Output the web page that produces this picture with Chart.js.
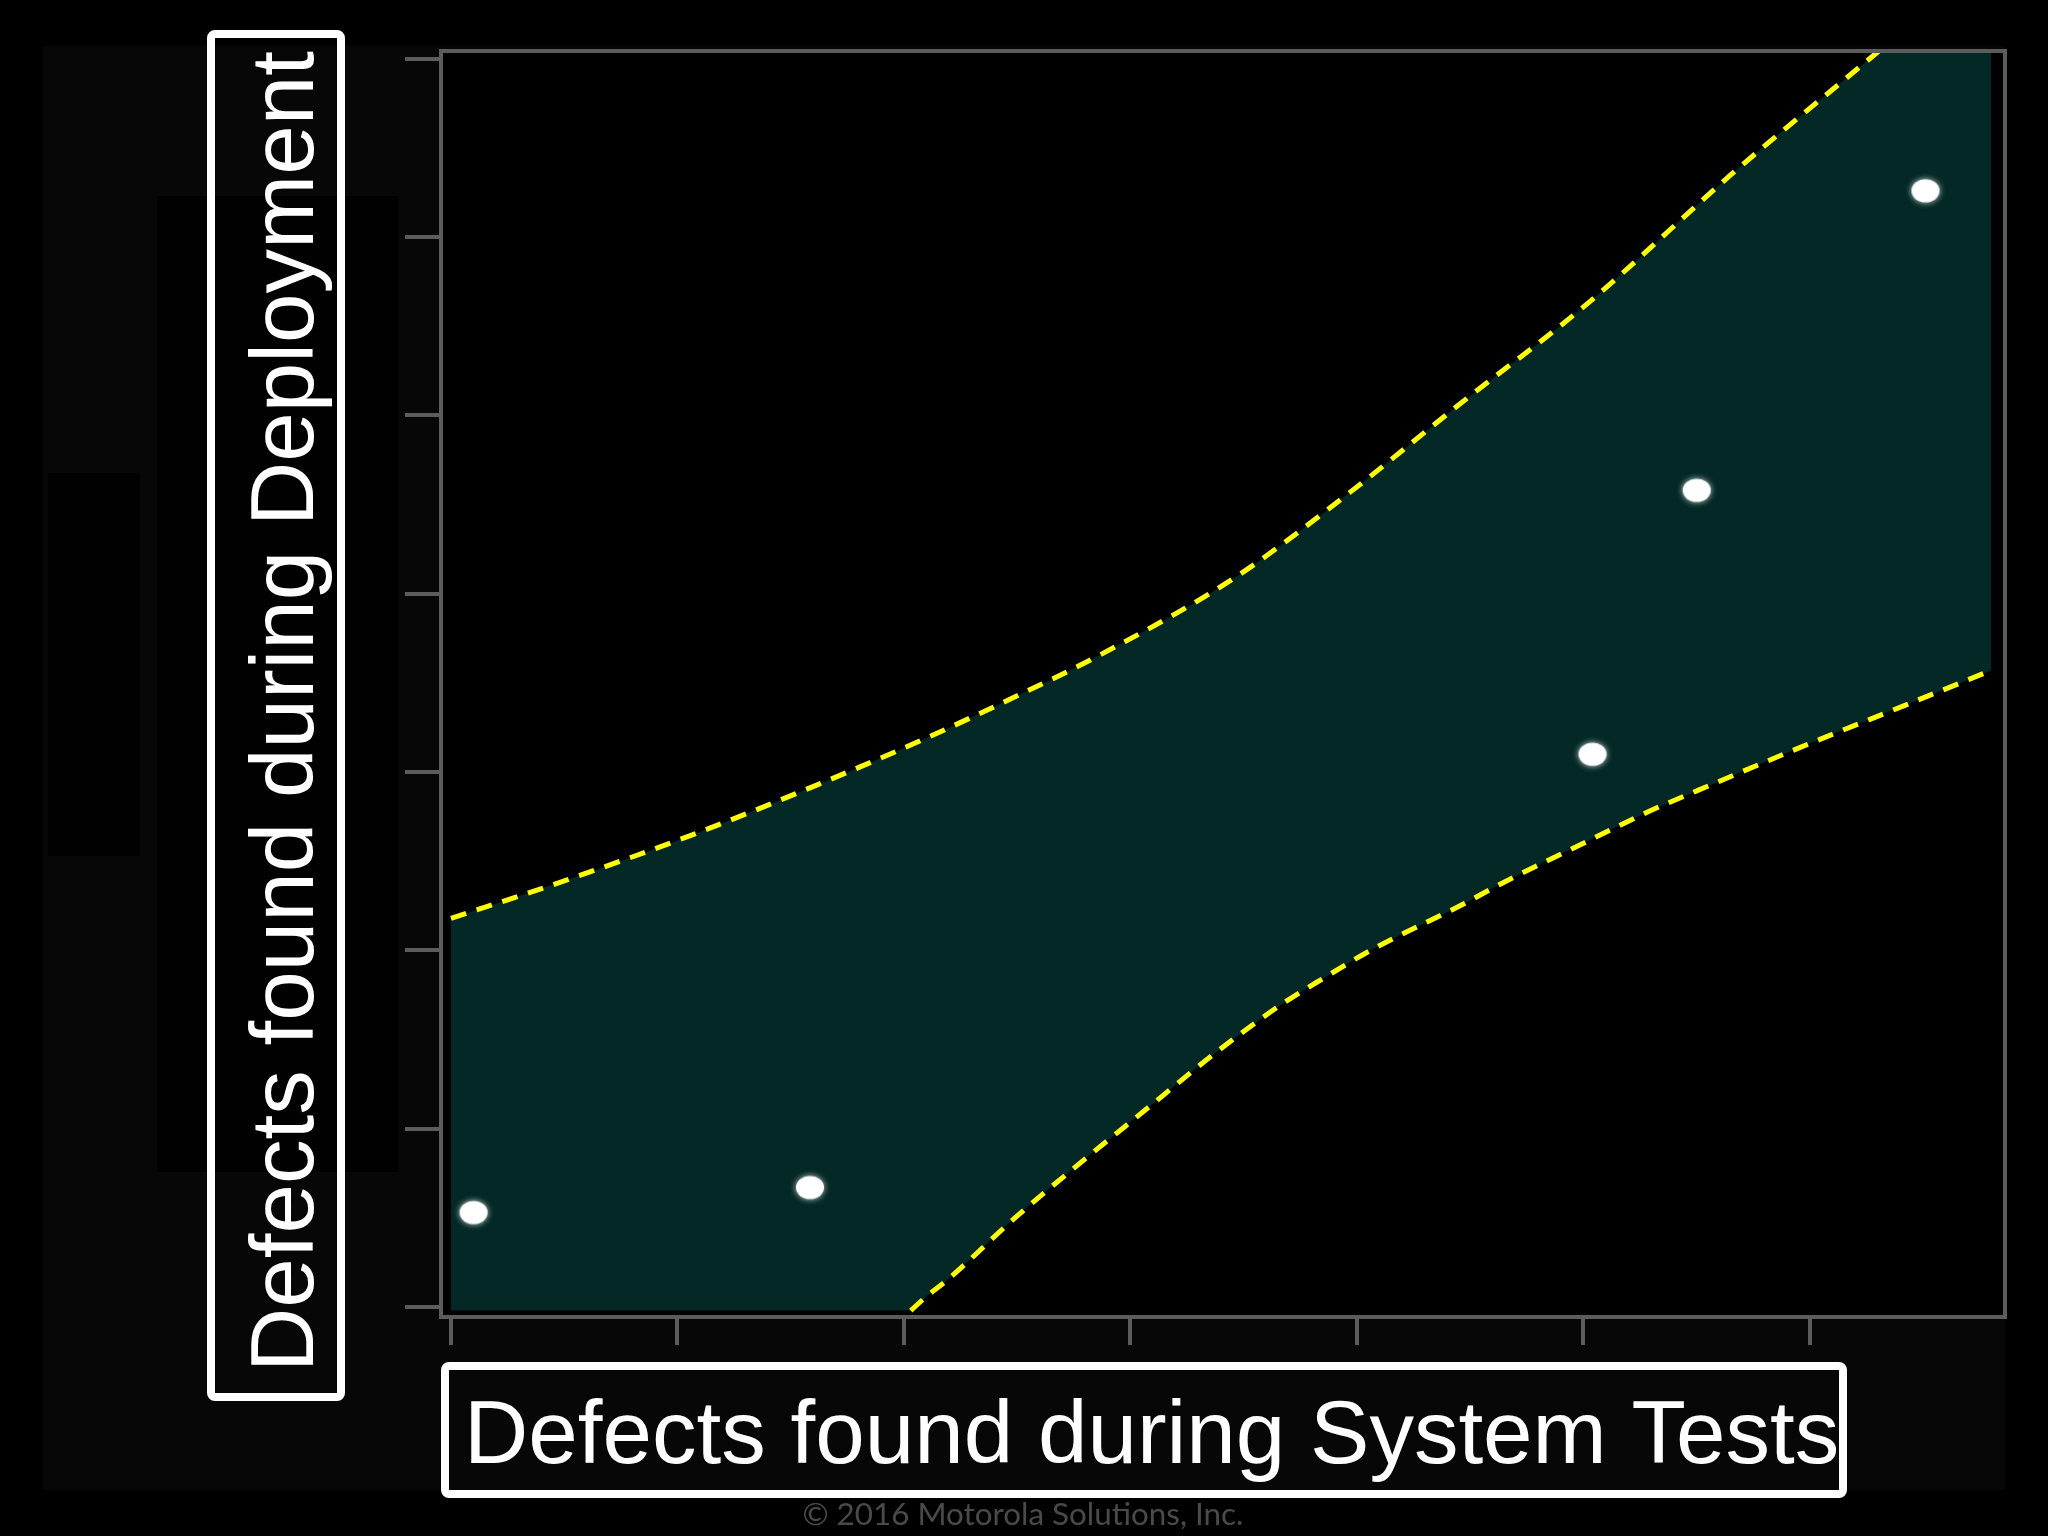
<!DOCTYPE html>
<html>
<head>
<meta charset="utf-8">
<script src="https://cdn.jsdelivr.net/npm/chart.js@4.4.1/dist/chart.umd.min.js"></script>
<style>
html,body{margin:0;padding:0;background:#000;overflow:hidden}
canvas{display:block}
</style>
</head>
<body>
<canvas id="c" width="2048" height="1536"></canvas>
<script>
// ---- data ----
const pointsX = [0.10, 1.585, 5.04, 5.50, 6.51];
const pointsY = [0.53, 0.67, 3.10, 4.58, 6.26];

const upperX = [0, 0.50, 1.09, 1.62, 2.08, 2.47, 2.87, 3.46, 3.97, 4.44, 5.02, 5.66, 6.30, 6.80];
const upperY = [2.18, 2.39, 2.66, 2.93, 3.18, 3.41, 3.66, 4.09, 4.57, 5.05, 5.63, 6.36, 7.04, 7.58];

// lower bound of the band (flat part is where it is cut at the bottom)
const lowerX = [0, 2.03, 2.10, 2.19, 2.49, 2.78, 3.08, 3.37, 3.67, 3.86, 4.06, 4.47, 4.63, 5.03, 5.29, 5.51, 5.96, 6.43, 6.80];
const lowerY = [-0.02, -0.02, 0.06, 0.15, 0.50, 0.81, 1.12, 1.42, 1.70, 1.85, 2.00, 2.26, 2.37, 2.62, 2.78, 2.90, 3.14, 3.38, 3.57];
// the dashed lower line starts where the bound leaves the bottom
const lowerLineX = lowerX.slice(1);
const lowerLineY = lowerY.slice(1);

const xTicks = [0, 1, 2, 3, 4, 5, 6];
const yTicks = [0, 1, 2, 3, 4, 5, 6, 7];

const xTitle = 'Defects found during System Tests';
const yTitle = 'Defects found during Deployment';
const footerText = '\u00A9 2016 Motorola Solutions, Inc.';

// ---- styles ----
const YELLOW = '#ffff00';
const TEAL = 'rgb(3,40,38)';
const GRAY = '#5c5c5c';
const TITLE_FONT = '89px "Liberation Sans", Arial, Helvetica, sans-serif';

const toXY = (xs, ys) => xs.map((x, i) => ({x: x, y: ys[i]}));

function makeDot() {
  const c = document.createElement('canvas');
  c.width = 46; c.height = 40;
  const g = c.getContext('2d');
  g.shadowColor = 'rgba(255,255,255,0.8)';
  g.shadowBlur = 6;
  g.fillStyle = '#ffffff';
  g.beginPath();
  g.ellipse(23, 20, 14, 11.5, 0, 0, Math.PI * 2);
  g.fill();
  return c;
}
const dot = makeDot();

const backgroundPlugin = {
  id: 'bg',
  beforeDraw(chart) {
    const ctx = chart.ctx;
    const a = chart.chartArea;
    ctx.save();
    ctx.fillStyle = '#000';
    ctx.fillRect(0, 0, chart.width, chart.height);
    ctx.fillStyle = '#070707';
    ctx.fillRect(43, 46, 1962, 1444);
    ctx.fillStyle = '#010101';
    ctx.fillRect(157, 196, 241, 976);
    ctx.fillRect(48, 473, 92, 383);
    ctx.fillStyle = '#000';
    ctx.fillRect(a.left, a.top, a.right - a.left, a.bottom - a.top);
    ctx.restore();
  }
};

const decorPlugin = {
  id: 'decor',
  afterDraw(chart) {
    const ctx = chart.ctx;
    const a = chart.chartArea;
    ctx.save();
    // top and right frame lines
    ctx.strokeStyle = GRAY;
    ctx.lineWidth = 4;
    ctx.beginPath();
    ctx.moveTo(a.left - 2, a.top);
    ctx.lineTo(a.right, a.top);
    ctx.lineTo(a.right, a.bottom + 2);
    ctx.stroke();

    // title boxes
    ctx.strokeStyle = '#ffffff';
    ctx.lineWidth = 8;
    ctx.lineJoin = 'round';
    ctx.beginPath();
    ctx.roundRect(445, 1366, 1398, 128, 4);
    ctx.stroke();
    ctx.beginPath();
    ctx.roundRect(211, 34, 130, 1363, 4);
    ctx.stroke();

    ctx.fillStyle = '#ffffff';
    ctx.font = TITLE_FONT;
    ctx.textBaseline = 'alphabetic';
    ctx.textAlign = 'left';
    ctx.fillText(xTitle, 464, 1463);

    ctx.save();
    ctx.translate(313, 1372);
    ctx.rotate(-Math.PI / 2);
    ctx.fillText(yTitle, 0, 0);
    ctx.restore();

    // footer
    ctx.font = '30px Lato, "Open Sans", sans-serif';
    const w = ctx.measureText(footerText).width;
    const sx = 441 / w;
    ctx.save();
    ctx.translate(1023, 1525);
    ctx.scale(sx, 1);
    ctx.fillStyle = '#4a4a4a';
    ctx.textAlign = 'center';
    ctx.fillText(footerText, 0, 0);
    ctx.restore();

    ctx.restore();
  }
};

new Chart(document.getElementById('c'), {
  type: 'scatter',
  data: {
    datasets: [
      {
        type: 'scatter',
        data: toXY(pointsX, pointsY),
        pointStyle: dot,
        pointRadius: 18,
        pointHoverRadius: 18,
        order: 0
      },
      {
        type: 'line',
        data: toXY(upperX, upperY),
        borderColor: YELLOW,
        borderWidth: 5,
        borderDash: [16, 11],
        backgroundColor: TEAL,
        fill: '+1',
        pointRadius: 0,
        cubicInterpolationMode: 'monotone',
        order: 3
      },
      {
        type: 'line',
        data: toXY(lowerX, lowerY),
        borderColor: 'rgba(0,0,0,0)',
        borderWidth: 0,
        fill: false,
        pointRadius: 0,
        cubicInterpolationMode: 'monotone',
        order: 2
      },
      {
        type: 'line',
        data: toXY(lowerLineX, lowerLineY),
        borderColor: YELLOW,
        borderWidth: 5,
        borderDash: [16, 11],
        fill: false,
        pointRadius: 0,
        cubicInterpolationMode: 'monotone',
        order: 1
      }
    ]
  },
  options: {
    responsive: false,
    animation: false,
    devicePixelRatio: 1,
    events: [],
    layout: { padding: { left: 405, top: 51, right: 43, bottom: 191 } },
    plugins: { legend: { display: false }, tooltip: { enabled: false } },
    scales: {
      x: {
        type: 'linear',
        min: -0.044,
        max: 6.861,
        afterBuildTicks: ax => { ax.ticks = xTicks.map(v => ({value: v})); },
        afterFit: s => { s.height = 28; },
        ticks: { display: false },
        grid: { drawOnChartArea: false, drawTicks: true, tickLength: 28, color: GRAY, lineWidth: 4 },
        border: { display: true, color: GRAY, width: 4 }
      },
      y: {
        type: 'linear',
        min: -0.056,
        max: 7.044,
        afterBuildTicks: ax => { ax.ticks = yTicks.map(v => ({value: v})); },
        afterFit: s => { s.width = 36; },
        ticks: { display: false },
        grid: { drawOnChartArea: false, drawTicks: true, tickLength: 36, color: GRAY, lineWidth: 4 },
        border: { display: true, color: GRAY, width: 4 }
      }
    }
  },
  plugins: [backgroundPlugin, decorPlugin]
});
</script>
</body>
</html>
